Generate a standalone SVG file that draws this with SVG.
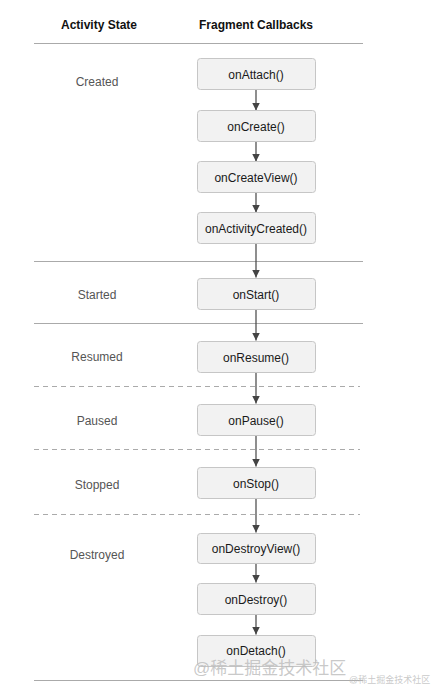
<svg xmlns="http://www.w3.org/2000/svg" width="448" height="697" viewBox="0 0 448 697">
<defs>
<marker id="ah" viewBox="0 0 10 10" refX="10" refY="5" markerWidth="8" markerHeight="8" markerUnits="userSpaceOnUse" orient="auto"><path d="M0,0 L10,5 L0,10 z" fill="#444"/></marker>
<style>
.hd{font-family:"Liberation Sans",Arial,sans-serif;font-size:12px;font-weight:bold;fill:#111;text-anchor:middle}
.st{font-family:"Liberation Sans",Arial,sans-serif;font-size:12px;fill:#555;text-anchor:middle}
.bx rect{fill:#f2f2f2;stroke:#c6c6c6;stroke-width:1}
.bx text{font-family:"Liberation Sans",Arial,sans-serif;font-size:12px;fill:#1a1a1a;text-anchor:middle}
.sl{stroke:#aaa;stroke-width:1}
.dl{stroke:#aaa;stroke-width:1;stroke-dasharray:5,4}
.cn line{stroke:#444;stroke-width:1.2;marker-end:url(#ah)}
.wm{font-family:"Liberation Sans","Noto Sans CJK SC",sans-serif;fill:#bbb;fill-opacity:0.8}
</style>
</defs>
<rect width="448" height="697" fill="#fff"/>
<text class="hd" x="99" y="29">Activity State</text>
<text class="hd" x="256" y="29">Fragment Callbacks</text>
<g id="separators">
<line class="sl" x1="34" y1="43.5" x2="363" y2="43.5"/>
<line class="sl" x1="34" y1="261.5" x2="363" y2="261.5"/>
<line class="sl" x1="34" y1="323.5" x2="363" y2="323.5"/>
<line class="dl" x1="34" y1="386.5" x2="360" y2="386.5"/>
<line class="dl" x1="34" y1="449.5" x2="360" y2="449.5"/>
<line class="dl" x1="34" y1="514.5" x2="360" y2="514.5"/>
<line class="sl" x1="34" y1="680.5" x2="363" y2="680.5"/>
</g>
<g id="states">
<text class="st" x="97" y="86">Created</text>
<text class="st" x="97" y="299">Started</text>
<text class="st" x="97" y="361">Resumed</text>
<text class="st" x="97" y="425">Paused</text>
<text class="st" x="97" y="489">Stopped</text>
<text class="st" x="97" y="559">Destroyed</text>
</g>
<g id="connectors" class="cn">
<line x1="256" y1="89.5" x2="256" y2="110.5"/>
<line x1="256" y1="141.5" x2="256" y2="161.5"/>
<line x1="256" y1="192.5" x2="256" y2="212.5"/>
<line x1="256" y1="243.5" x2="256" y2="277.5"/>
<line x1="256" y1="309.5" x2="256" y2="340.5"/>
<line x1="256" y1="372.5" x2="256" y2="403.5"/>
<line x1="256" y1="435.5" x2="256" y2="466.5"/>
<line x1="256" y1="498.5" x2="256" y2="532.5"/>
<line x1="256" y1="563.5" x2="256" y2="582.5"/>
<line x1="256" y1="614.5" x2="256" y2="634.5"/>
</g>
<g id="onAttach" class="bx"><rect x="197.5" y="58.5" width="118" height="31" rx="3"/><text x="256" y="78.5">onAttach()</text></g>
<g id="onCreate" class="bx"><rect x="197.5" y="110.5" width="118" height="31" rx="3"/><text x="256" y="130.5">onCreate()</text></g>
<g id="onCreateView" class="bx"><rect x="197.5" y="161.5" width="118" height="31" rx="3"/><text x="256" y="181.5">onCreateView()</text></g>
<g id="onActivityCreated" class="bx"><rect x="197.5" y="212.5" width="118" height="31" rx="3"/><text x="256" y="232.5">onActivityCreated()</text></g>
<g id="onStart" class="bx"><rect x="197.5" y="278.5" width="118" height="31" rx="3"/><text x="256" y="298.5">onStart()</text></g>
<g id="onResume" class="bx"><rect x="197.5" y="341.5" width="118" height="31" rx="3"/><text x="256" y="361.5">onResume()</text></g>
<g id="onPause" class="bx"><rect x="197.5" y="404.5" width="118" height="31" rx="3"/><text x="256" y="424.5">onPause()</text></g>
<g id="onStop" class="bx"><rect x="197.5" y="467.5" width="118" height="31" rx="3"/><text x="256" y="487.5">onStop()</text></g>
<g id="onDestroyView" class="bx"><rect x="197.5" y="533.5" width="118" height="30" rx="3"/><text x="256" y="553">onDestroyView()</text></g>
<g id="onDestroy" class="bx"><rect x="197.5" y="583.5" width="118" height="31" rx="3"/><text x="256" y="603.5">onDestroy()</text></g>
<g id="onDetach" class="bx"><rect x="197.5" y="635.5" width="118" height="31" rx="3"/><text x="256" y="654.5">onDetach()</text></g>
<text class="wm" x="193" y="674" font-size="17">@稀土掘金技术社区</text>
<text class="wm" x="349" y="683" font-size="9">@稀土掘金技术社区</text>
</svg>
